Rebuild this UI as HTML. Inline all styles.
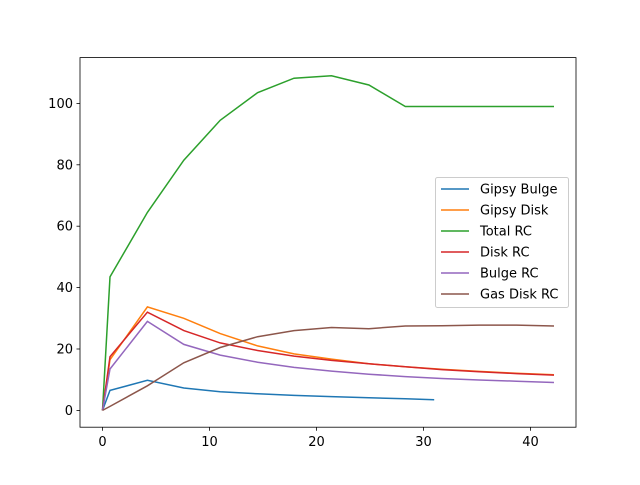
<!DOCTYPE html>
<html><head><meta charset="utf-8"><style>
body{margin:0;background:#fff}
svg{font-family:"DejaVu Sans","Liberation Sans",sans-serif}
</style></head><body>
<svg id="chart" width="640" height="480">
<rect x="0" y="0" width="640" height="480" fill="#fff"/>
<g id="lines"></g>
<rect x="80" y="57.6" width="496" height="369.6" fill="none" stroke="#000" stroke-width="0.8"/>
<g id="axes"></g>
<g id="legend"></g>
</svg>
<script>
const xFull = [0,0.7,4.2,7.6,11.0,14.5,17.9,21.4,24.9,28.3,31.7,35.2,38.7,42.2];
const xGipsy = [0,0.7,4.2,7.6,11.0,14.5,17.9,21.4,24.9,28.3,31.0];
const gipsyBulge = [0,6.5,9.8,7.3,6.1,5.4,4.9,4.5,4.1,3.8,3.5];
const gipsyDisk = [0,16.5,33.7,30,25,21,18.4,16.7,15.2,14.2,13.4,12.7,12.1,11.6];
const totalRC = [0,43.5,64.5,81.5,94.5,103.5,108.2,109,106,99,99,99,99,99];
const diskRC = [0,17.5,32,26,22,19.5,17.7,16.3,15.2,14.2,13.3,12.6,12,11.5];
const bulgeRC = [0,13.5,29,21.5,18,15.7,14,12.8,11.8,11,10.4,9.9,9.5,9.1];
const gasRC = [0,1.3,8,15.5,20.5,24,26,27,26.6,27.5,27.6,27.8,27.8,27.5];
const xTicks = [0,10,20,30,40];
const yTicks = [0,20,40,60,80,100];
const seriesNames = ["Gipsy Bulge","Gipsy Disk","Total RC","Disk RC","Bulge RC","Gas Disk RC"];
const colors = ["#1f77b4","#ff7f0e","#2ca02c","#d62728","#9467bd","#8c564b"];

const X = v => 102.5 + v*10.7;
const Y = v => 410.4 - v*3.07;
const NS="http://www.w3.org/2000/svg";
function mk(t,a,p){const e=document.createElementNS(NS,t);for(const k in a)e.setAttribute(k,a[k]);p.appendChild(e);return e;}

const series=[[xGipsy,gipsyBulge],[xFull,gipsyDisk],[xFull,totalRC],[xFull,diskRC],[xFull,bulgeRC],[xFull,gasRC]];
const lg=document.getElementById('lines');
series.forEach((s,i)=>{
  const pts=s[1].map((v,j)=>X(s[0][j]).toFixed(1)+','+Y(v).toFixed(1)).join(' ');
  const pl=mk('polyline',{points:pts,fill:'none',stroke:colors[i],'stroke-width':1.5},lg);
  
  
});
const ax=document.getElementById('axes');
xTicks.forEach(t=>{
  const l=mk('line',{x1:X(t),x2:X(t),y1:427.2,y2:430.7,stroke:'#000','stroke-width':0.8},ax);
  
  
  const tx=mk('text',{x:X(t),y:446,'font-size':13,'text-anchor':'middle'},ax);tx.textContent=t;
  
  
});
yTicks.forEach(t=>{
  const l=mk('line',{x1:76.5,x2:80,y1:Y(t),y2:Y(t),stroke:'#000','stroke-width':0.8},ax);
  
  
  const tx=mk('text',{x:73,y:Y(t)+4.5,'font-size':13,'text-anchor':'end'},ax);tx.textContent=t;
  
  
});
const lgd=document.getElementById('legend');
const box=mk('rect',{x:435.5,y:177.5,width:133,height:130,rx:2,fill:'#fff','fill-opacity':0.8,stroke:'#ccc'},lgd);


seriesNames.forEach((n,i)=>{
  const y=189+i*21;
  const l=mk('line',{x1:441,x2:469,y1:y,y2:y,stroke:colors[i],'stroke-width':1.5},lgd);
  
  
  const t=mk('text',{x:480,y:y+4.5,'font-size':13},lgd);t.textContent=n;
  
  
});
</script>
</body></html>
